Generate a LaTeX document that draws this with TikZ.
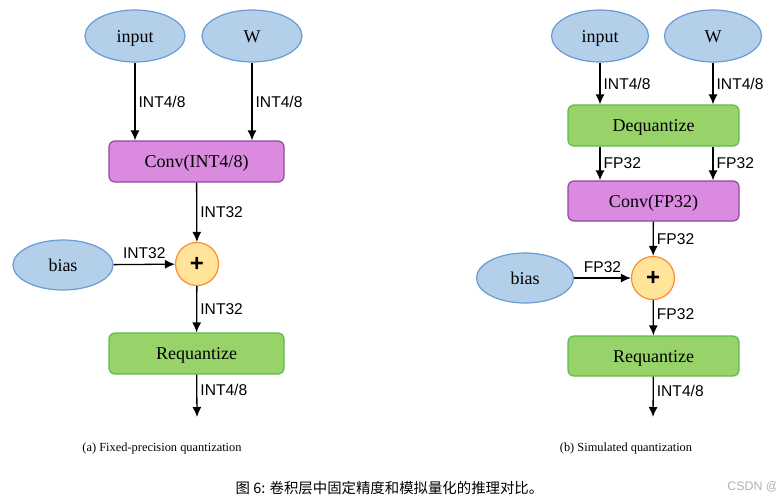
\documentclass[tikz,border=0pt]{standalone}
\usepackage{fontspec}
\setmainfont{Liberation Serif}
\newfontfamily\labelfont{Liberation Sans}
\newfontfamily\cjk{Noto Sans CJK SC}
\usepackage{xcolor}
\usetikzlibrary{arrows.meta, positioning, shapes.geometric}

\definecolor{datafill}{HTML}{B3CFEA}
\definecolor{dataline}{HTML}{6A9BD3}
\definecolor{convfill}{HTML}{DA8ADF}
\definecolor{convline}{HTML}{8E4A9E}
\definecolor{quantfill}{HTML}{97D369}
\definecolor{quantline}{HTML}{5DBB4C}
\definecolor{addfill}{HTML}{FFE499}
\definecolor{addline}{HTML}{FF8A33}

\begin{document}
\begin{tikzpicture}[
  x=0.5pt, y=-0.5pt,
  every node/.style={align=center, inner sep=0pt, font=\fontsize{9}{11}\selectfont},
  data/.style={ellipse, draw=dataline, fill=datafill, line width=0.6pt, minimum width=50pt, minimum height=26pt, text height=7pt, text depth=1pt},
  opbox/.style={rectangle, rounded corners=3pt, line width=0.6pt, minimum width=87.5pt, minimum height=20.5pt, text height=7pt, text depth=1pt},
  convbox/.style={opbox, fill=convfill, draw=convline},
  quantbox/.style={opbox, fill=quantfill, draw=quantline},
  adder/.style={circle, draw=addline, fill=addfill, line width=0.6pt, minimum size=21.5pt, font=\labelfont\bfseries\fontsize{12}{12}\selectfont},
  tag/.style={inner sep=1.5pt, font=\labelfont\fontsize{7.8}{9}\selectfont},
  subcap/.style={font=\fontsize{6.2}{7}\selectfont},
  arrow/.style={-{Latex[length=5pt,width=4.5pt]}, line width=0.65pt}
]
\useasboundingbox (0,0) rectangle (776,499);

% Nodes (a)
\node[data] (input_a) at (135,36) {input};
\node[data] (w_a) at (252,36) {W};
\node[convbox] (conv_a) at (196.5,161.5) {Conv(INT4/8)};
\node[adder] (add_a) at (197,264) {+};
\node[data, minimum height=25pt] (bias_a) at (63,265) {bias};
\node[quantbox] (requant_a) at (196.5,353.5) {Requantize};
\coordinate (out_a) at (197,417);
\node[subcap] (cap_a) at (162,449) {(a) Fixed-precision quantization};

% Nodes (b)
\node[data, minimum width=48.5pt] (input_b) at (600,36) {input};
\node[data, minimum width=48.5pt] (w_b) at (713,36) {W};
\node[quantbox, minimum width=85.5pt] (dequant_b) at (653.5,125.5) {Dequantize};
\node[convbox, minimum width=85.5pt, minimum height=20pt] (conv_b) at (653.5,201) {Conv(FP32)};
\node[adder] (add_b) at (653,278) {+};
\node[data, minimum width=48.5pt, minimum height=25pt] (bias_b) at (525,278) {bias};
\node[quantbox, minimum width=85.5pt, minimum height=20pt] (requant_b) at (653.5,356) {Requantize};
\coordinate (out_b) at (653,417);
\node[subcap] (cap_b) at (626,449) {(b) Simulated quantization};

% Caption
\node[font=\cjk\fontsize{7.2}{8}\selectfont] (caption) at (389.5,488) {图 6: 卷积层中固定精度和模拟量化的推理对比。};
\node[anchor=west, text=black!30, font=\labelfont\fontsize{6.2}{7}\selectfont] (mark) at (727,487) {CSDN @};

% Arrows (a)
\draw[arrow] (input_a) -- (input_a |- conv_a.north) node[tag, midway, right] {INT4/8};
\draw[arrow] (w_a) -- (w_a |- conv_a.north) node[tag, midway, right] {INT4/8};
\draw[arrow] (conv_a) -- (add_a) node[tag, midway, right] {INT32};
\draw[arrow] (bias_a) -- (add_a) node[tag, midway, above=1pt] {INT32};
\draw[arrow] (add_a) -- (requant_a) node[tag, midway, right] {INT32};
\draw[arrow] (requant_a) -- (out_a) node[tag, pos=0.36, right] {INT4/8};

% Arrows (b)
\draw[arrow] (input_b) -- (input_b |- dequant_b.north) node[tag, midway, right] {INT4/8};
\draw[arrow] (w_b) -- (w_b |- dequant_b.north) node[tag, midway, right] {INT4/8};
\draw[arrow] (dequant_b.south -| input_b) -- (input_b |- conv_b.north) node[tag, midway, right] {FP32};
\draw[arrow] (dequant_b.south -| w_b) -- (w_b |- conv_b.north) node[tag, midway, right] {FP32};
\draw[arrow] (conv_b) -- (add_b) node[tag, midway, right] {FP32};
\draw[arrow] (bias_b) -- (add_b) node[tag, midway, above=1pt] {FP32};
\draw[arrow] (add_b) -- (requant_b) node[tag, pos=0.4, right] {FP32};
\draw[arrow] (requant_b) -- (out_b) node[tag, pos=0.36, right] {INT4/8};

\end{tikzpicture}
\end{document}
